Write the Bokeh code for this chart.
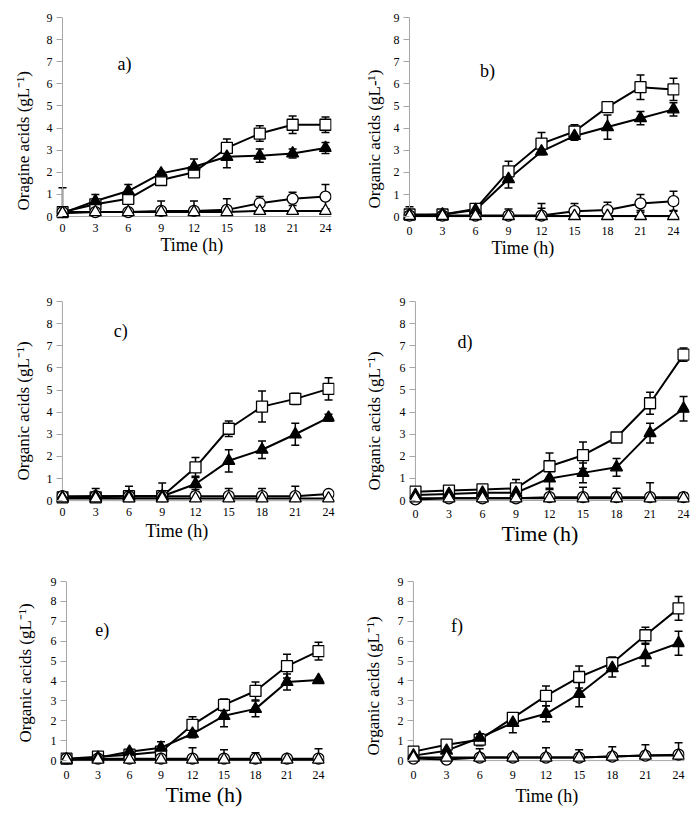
import numpy as np
from bokeh.plotting import figure
from bokeh.models import ColumnDataSource, Whisker, TeeHead, Range1d, Label, FixedTicker, Title
from bokeh.layouts import row, column
from bokeh.embed import file_html
from bokeh.resources import INLINE

hours = [0, 3, 6, 9, 12, 15, 18, 21, 24]
y_ticks = [0, 1, 2, 3, 4, 5, 6, 7, 8, 9]

# ---- panel a ----
a_square = [0.2, 0.55, 0.8, 1.65, 2.0, 3.1, 3.75, 4.15, 4.15]
a_square_err = [0.1, 0.1, 0.1, 0.15, 0.1, 0.4, 0.35, 0.4, 0.35]
a_ftri = [0.15, 0.7, 1.15, 1.95, 2.25, 2.7, 2.75, 2.85, 3.1]
a_ftri_err = [0.05, 0.3, 0.3, 0.1, 0.35, 0.5, 0.3, 0.2, 0.25]
a_circle = [0.2, 0.2, 0.2, 0.25, 0.25, 0.3, 0.6, 0.8, 0.9]
a_circle_err = [1.1, 0.1, 0.1, 0.45, 0.45, 0.5, 0.3, 0.3, 0.55]
a_otri = [0.15, 0.2, 0.2, 0.2, 0.2, 0.2, 0.25, 0.25, 0.25]
a_otri_err = [0, 0, 0, 0, 0, 0, 0, 0, 0]

# ---- panel b ----
b_square = [0.1, 0.1, 0.35, 2.05, 3.3, 3.85, 4.95, 5.85, 5.75]
b_square_err = [0.1, 0.05, 0.1, 0.45, 0.5, 0.3, 0.05, 0.55, 0.5]
b_ftri = [0.05, 0.1, 0.3, 1.7, 2.95, 3.65, 4.05, 4.45, 4.85]
b_ftri_err = [0.05, 0.1, 0.1, 0.4, 0.1, 0.2, 0.55, 0.3, 0.3]
b_circle = [0.05, 0.05, 0.05, 0.05, 0.05, 0.25, 0.3, 0.6, 0.7]
b_circle_err = [0.4, 0.05, 0.05, 0.3, 0.55, 0.35, 0.35, 0.4, 0.45]
b_otri = [0.03, 0.03, 0.03, 0.03, 0.03, 0.03, 0.03, 0.03, 0.03]
b_otri_err = [0.05, 0, 0, 0, 0.35, 0, 0, 0.25, 0.25]

# ---- panel c ----
c_square = [0.15, 0.15, 0.2, 0.2, 1.5, 3.25, 4.25, 4.6, 5.05]
c_square_err = [0.05, 0.05, 0.05, 0.1, 0.45, 0.35, 0.7, 0.25, 0.5]
c_ftri = [0.15, 0.2, 0.2, 0.2, 0.75, 1.8, 2.3, 3.0, 3.75]
c_ftri_err = [0.25, 0.35, 0.45, 0.6, 0.35, 0.5, 0.4, 0.5, 0.15]
c_circle = [0.2, 0.2, 0.2, 0.2, 0.2, 0.2, 0.2, 0.2, 0.3]
c_circle_err = [0.05, 0.05, 0.05, 0.05, 0.3, 0.35, 0.35, 0.45, 0.05]
c_otri = [0.1, 0.1, 0.1, 0.1, 0.1, 0.1, 0.1, 0.1, 0.1]
c_otri_err = [0, 0, 0, 0, 0, 0, 0, 0, 0]

# ---- panel d ----
d_square = [0.4, 0.45, 0.5, 0.55, 1.55, 2.05, 2.85, 4.4, 6.6]
d_square_err = [0.05, 0.1, 0.05, 0.4, 0.6, 0.6, 0.1, 0.5, 0.3]
d_ftri = [0.25, 0.3, 0.35, 0.35, 1.0, 1.25, 1.5, 3.05, 4.15]
d_ftri_err = [0.05, 0.05, 0.05, 0.05, 0.5, 0.45, 0.4, 0.45, 0.55]
d_circle = [0.05, 0.1, 0.1, 0.1, 0.15, 0.15, 0.15, 0.15, 0.15]
d_circle_err = [0, 0, 0, 0, 0.4, 0.45, 0.4, 0.65, 0.2]
d_otri = [0.1, 0.1, 0.1, 0.1, 0.1, 0.1, 0.1, 0.1, 0.1]
d_otri_err = [0, 0, 0, 0, 0, 0, 0, 0, 0]

# ---- panel e ----
e_square = [0.1, 0.2, 0.3, 0.45, 1.8, 2.8, 3.5, 4.75, 5.5]
e_square_err = [0.05, 0.05, 0.05, 0.1, 0.4, 0.3, 0.45, 0.6, 0.45]
e_ftri = [0.05, 0.15, 0.45, 0.65, 1.35, 2.25, 2.6, 3.95, 4.05]
e_ftri_err = [0.05, 0.05, 0.1, 0.3, 0.2, 0.55, 0.4, 0.4, 0.05]
e_circle = [0.1, 0.1, 0.1, 0.1, 0.1, 0.1, 0.1, 0.1, 0.1]
e_circle_err = [0, 0, 0, 0, 0.55, 0.45, 0.3, 0.15, 0.5]
e_otri = [0.05, 0.05, 0.05, 0.05, 0.05, 0.05, 0.05, 0.05, 0.05]
e_otri_err = [0, 0, 0, 0, 0, 0, 0, 0, 0]

# ---- panel f ----
f_square = [0.45, 0.8, 1.05, 2.15, 3.25, 4.2, 4.9, 6.3, 7.65]
f_square_err = [0.2, 0.2, 0.3, 0.25, 0.5, 0.55, 0.3, 0.4, 0.6]
f_ftri = [0.25, 0.5, 1.15, 1.9, 2.35, 3.35, 4.65, 5.3, 5.9]
f_ftri_err = [0.05, 0.1, 0.2, 0.5, 0.4, 0.65, 0.45, 0.55, 0.6]
f_circle = [0.1, 0.05, 0.15, 0.15, 0.15, 0.15, 0.2, 0.25, 0.3]
f_circle_err = [0.1, 0.1, 0.45, 0.1, 0.5, 0.4, 0.5, 0.55, 0.6]
f_otri = [0.15, 0.15, 0.15, 0.15, 0.15, 0.15, 0.2, 0.25, 0.25]
f_otri_err = [0, 0, 0, 0, 0, 0, 0, 0, 0]

FONT = "Liberation Serif"
AXIS_GRAY = "#a6a6a6"
PAD = 6


def build(tag, ylabel, xlabel, series, geom, tag_px, ylab_c, xlab_c, xlab_fs, xtick_cy):
    fig_l, fig_t, W, H, x0, x24, y0, y9 = geom
    kx = (x24 - x0) / 24.0
    ky = (y0 - y9) / 9.0
    frame_l = x0 - PAD
    frame_b = y0 + PAD
    bl = int(round(frame_l - fig_l))
    bb = int(round(fig_t + H - frame_b))
    p = figure(
        width=W, height=H,
        x_range=Range1d(-PAD / kx, 24 + PAD / kx),
        y_range=Range1d(-PAD / ky, 9),
        output_backend="svg", toolbar_location=None,
        min_border_left=bl,
        min_border_right=int(round(fig_l + W - x24 - PAD)),
        min_border_top=int(round(y9 - fig_t)),
        min_border_bottom=bb,
    )
    p.outline_line_color = None
    p.grid.visible = False
    p.background_fill_color = "white"
    p.border_fill_color = "white"

    for ax in (p.xaxis[0], p.yaxis[0]):
        ax.axis_line_color = None
        ax.major_tick_line_color = AXIS_GRAY
        ax.minor_tick_line_color = None
        ax.major_label_text_font = FONT
        ax.major_label_text_font_size = "12px"
        ax.major_label_text_color = "black"
    xa = p.xaxis[0]
    xa.ticker = FixedTicker(ticks=hours)
    xa.major_tick_out = 0
    xa.major_tick_in = 0
    xt_standoff = max(0, int(round(xtick_cy - 7 - frame_b)))
    xa.major_label_standoff = xt_standoff
    ya = p.yaxis[0]
    ya.ticker = FixedTicker(ticks=y_ticks)
    ya.major_tick_out = 0
    ya.major_tick_in = PAD
    ya.major_label_standoff = 4

    # axis lines through the origin
    p.segment(x0=[hours[0]], y0=[y_ticks[0]], x1=[hours[0]], y1=[y_ticks[-1]],
              line_color=AXIS_GRAY, line_width=1)
    p.segment(x0=[hours[0]], y0=[y_ticks[0]], x1=[hours[-1] + PAD / kx], y1=[y_ticks[0]],
              line_color=AXIS_GRAY, line_width=1)

    # lines
    for vals, errs, marker, fill, msize in series:
        p.line(hours, vals, line_color="black", line_width=2)
    # error bars
    for vals, errs, marker, fill, msize in series:
        v = np.array(vals, dtype=float)
        e = np.array(errs, dtype=float)
        lower = np.where(v - e >= 0, v - e, v)
        src = ColumnDataSource(dict(base=hours, upper=v + e, lower=lower))
        w = Whisker(source=src, base="base", upper="upper", lower="lower",
                    line_color="black", line_width=1.5,
                    upper_head=TeeHead(size=8, line_width=1.5, line_color="black"),
                    lower_head=TeeHead(size=8, line_width=1.5, line_color="black"))
        w.level = "underlay"
        p.add_layout(w)
    # markers
    for vals, errs, marker, fill, msize in series:
        p.scatter(hours, vals, marker=marker, size=msize, fill_color=fill,
                  line_color="black", line_width=1.3)

    # panel tag
    tx, ty = (tag_px[0] - x0) / kx, (y0 - tag_px[1]) / ky
    p.add_layout(Label(x=tx, y=ty, text=tag, text_font=FONT, text_font_size="18px",
                       text_align="center", text_baseline="middle", text_color="black"))

    # y title (left side)
    yfs = 17
    hy = 1.15 * yfs
    ylen = 8.2 * yfs
    y_axis_ext = 4 + 6
    axis_left = frame_l - y_axis_ext
    want = 2 * (axis_left - ylab_c[0] - hy / 2)
    limit = bl - y_axis_ext - hy - 1
    ys = int(max(0, min(want, limit)))
    yt = Title(text=ylabel, align="left", offset=int(round(frame_b - (ylab_c[1] + ylen / 2))),
               standoff=ys, vertical_align="bottom", text_font=FONT,
               text_font_size="%dpx" % yfs, text_font_style="normal", text_color="black")
    p.add_layout(yt, "left")

    # x title (below)
    hx = 1.15 * xlab_fs
    xw = 3.527 * xlab_fs
    x_axis_ext = xt_standoff + 14
    top_want = xlab_c[1] - hx / 2
    xs = int(max(0, 2 * (top_want - (frame_b + x_axis_ext))))
    xt = Title(text=xlabel, align="left", offset=int(round(xlab_c[0] - xw / 2 - frame_l)),
               standoff=xs, vertical_align="top", text_font=FONT,
               text_font_size="%dpx" % xlab_fs, text_font_style="normal", text_color="black")
    p.add_layout(xt, "below")
    return p


def series_of(sq, sq_e, ft, ft_e, oc, oc_e, ot, ot_e):
    return [
        (sq, sq_e, "square", "white", 11),
        (oc, oc_e, "circle", "white", 11),
        (ft, ft_e, "triangle", "black", 12),
        (ot, ot_e, "triangle", "white", 12),
    ]


pa = build("a)", "Oragine acids (gL⁻¹)", "Time (h)",
           series_of(a_square, a_square_err, a_ftri, a_ftri_err, a_circle, a_circle_err, a_otri, a_otri_err),
           (0, 0, 350, 268, 62, 325, 216, 17), (124, 63), (25, 140), (192, 244), 18, 230)
pb = build("b)", "Organic acids (gL-¹)", "Time (h)",
           series_of(b_square, b_square_err, b_ftri, b_ftri_err, b_circle, b_circle_err, b_otri, b_otri_err),
           (350, 0, 350, 268, 409, 673, 222, 16), (487, 71), (376, 144), (523, 254), 18, 239)
pc = build("c)", "Organic acids (gL⁻¹)", "Time (h)",
           series_of(c_square, c_square_err, c_ftri, c_ftri_err, c_circle, c_circle_err, c_otri, c_otri_err),
           (0, 268, 350, 284, 59, 328, 505, 301), (118, 331), (13, 415), (174, 539), 18, 519)
pd = build("d)", "Organic acids (gL⁻¹)", "Time (h)",
           series_of(d_square, d_square_err, d_ftri, d_ftri_err, d_circle, d_circle_err, d_otri, d_otri_err),
           (350, 268, 350, 284, 412, 683, 500, 300), (462, 341), (371, 420), (537, 535), 22, 516)
pe = build("e)", "Organic acids (gL⁻¹)", "Time (h)",
           series_of(e_square, e_square_err, e_ftri, e_ftri_err, e_circle, e_circle_err, e_otri, e_otri_err),
           (0, 552, 350, 264, 65, 318, 760, 577), (101, 627), (26, 672), (203, 796), 22, 777)
pf = build("f)", "Organic  acids (gL⁻¹)", "Time (h)",
           series_of(f_square, f_square_err, f_ftri, f_ftri_err, f_circle, f_circle_err, f_otri, f_otri_err),
           (350, 552, 350, 264, 410, 678, 763, 581), (454, 626), (369, 688), (544, 802), 18, 780)

layout = column(row(pa, pb), row(pc, pd), row(pe, pf))
open("out.html", "w").write(file_html(layout, INLINE))
